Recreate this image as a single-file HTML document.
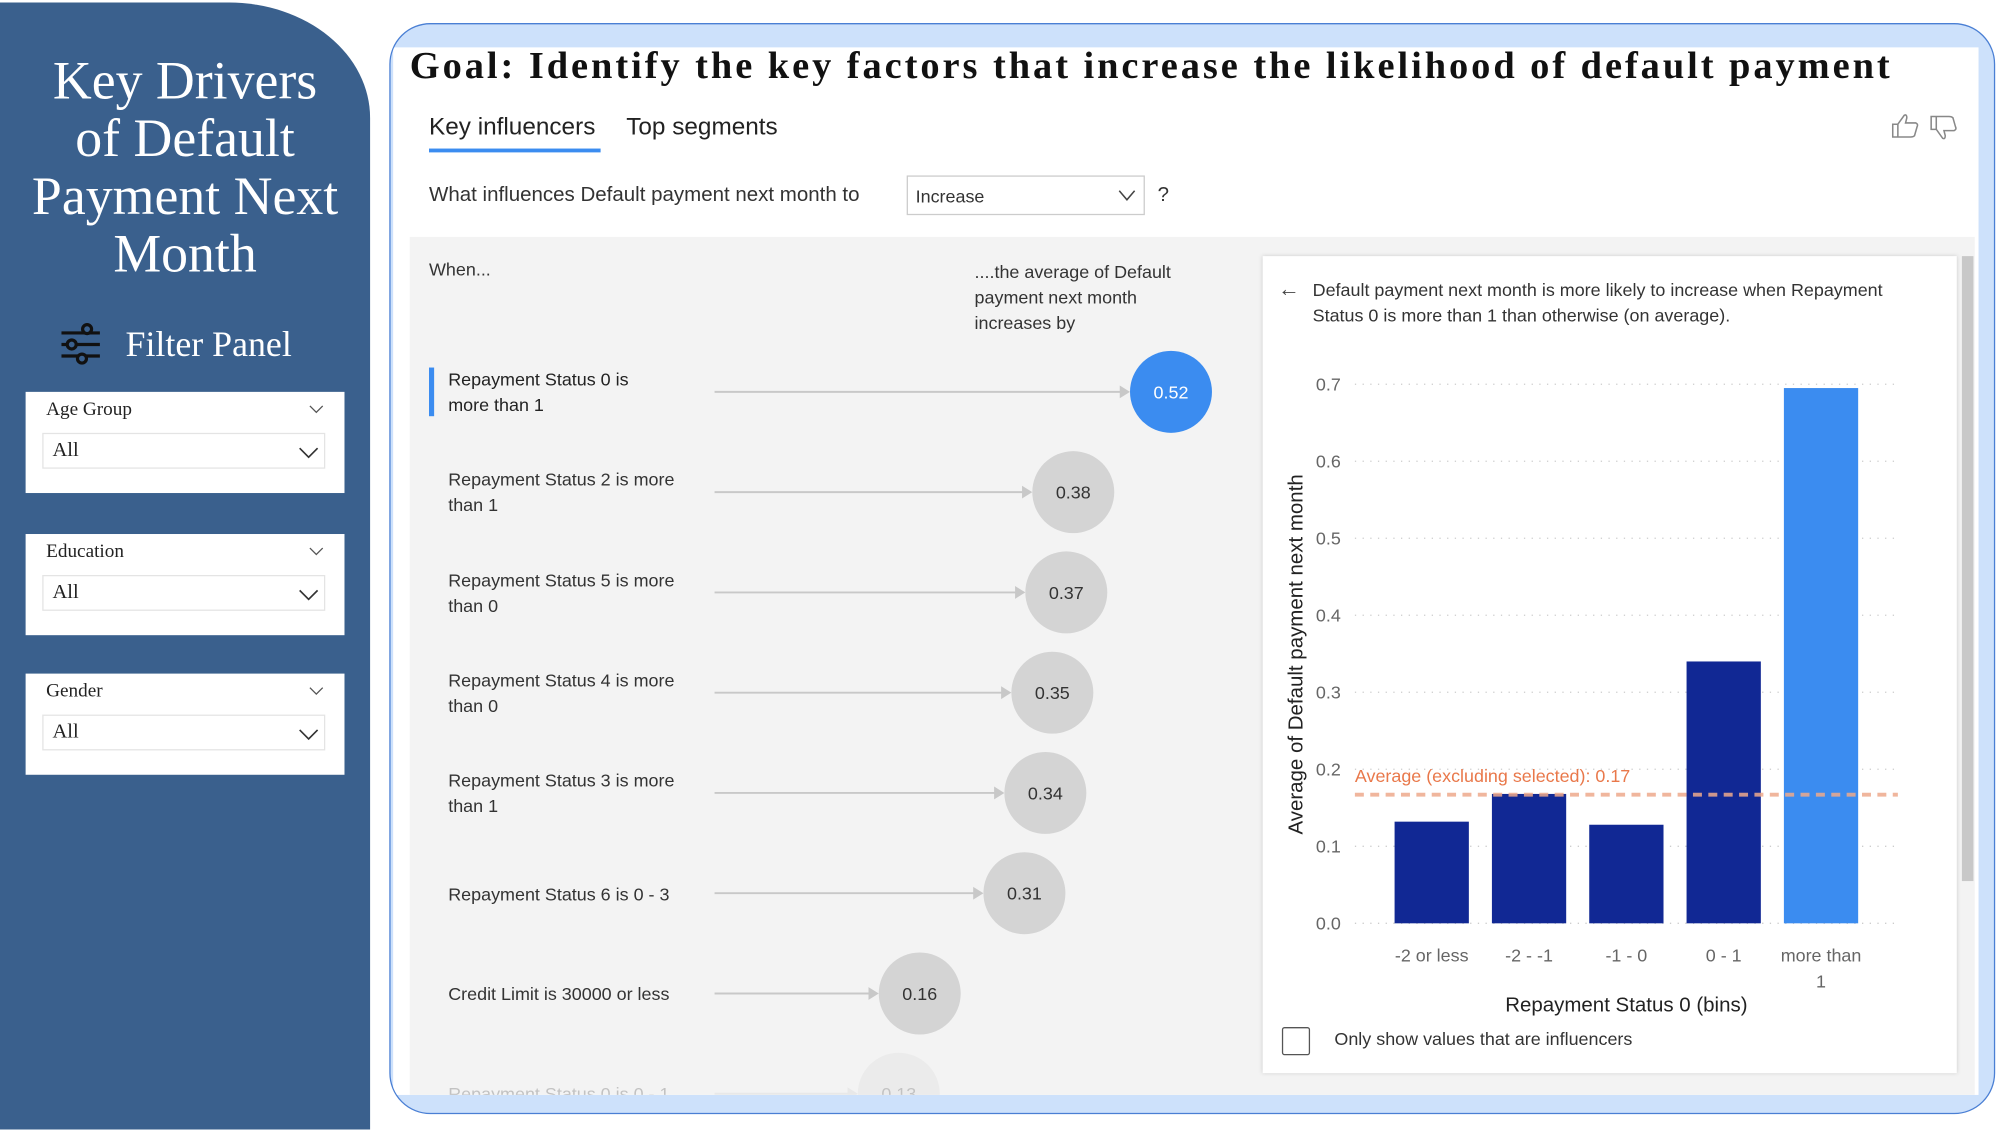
<!DOCTYPE html>
<html><head><meta charset="utf-8"><style>
html,body{margin:0;padding:0;width:2008px;height:1130px;overflow:hidden;background:#fff}
#root{position:absolute;left:0;top:0;width:1568px;height:882px;transform:scale(1.28061);transform-origin:0 0;font-family:"Liberation Sans",sans-serif;overflow:hidden}
.abs{position:absolute}
.serif{font-family:"Liberation Serif",serif}
.slicer{position:absolute;left:20px;width:249px;height:79px;background:#fff}
.slicer .lbl{position:absolute;left:16px;top:6px;font:15px "Liberation Serif",serif;color:#222}
.slicer .box{position:absolute;left:13px;top:32px;width:221px;height:28px;border:1px solid #e4e4e4;box-sizing:border-box}
.slicer .box span{position:absolute;left:7px;top:4px;font:16px "Liberation Serif",serif;color:#222}
.infl{position:absolute;left:350px;font-size:14px;color:#333;line-height:20px;width:200px}
</style></head><body>
<div id="root">
  <div class="abs" style="left:0;top:2px;width:289px;height:880px;background:#3a608d;border-top-right-radius:110px 90px"></div>
  <div class="abs serif" style="left:0;top:42px;width:289px;text-align:center;color:#fff;font-size:42px;line-height:45px">Key Drivers<br>of Default<br>Payment Next<br>Month</div>
  <svg class="abs" style="left:46px;top:252px" width="34" height="34" viewBox="0 0 34 34"><g stroke="#111" stroke-width="2.5" fill="none"><line x1="2" y1="8" x2="32" y2="8"/><line x1="2" y1="17" x2="32" y2="17"/><line x1="2" y1="26" x2="32" y2="26"/><circle cx="22" cy="5" r="3.5" fill="#3a608d"/><circle cx="10" cy="17" r="3.5" fill="#3a608d"/><circle cx="18" cy="28" r="3.5" fill="#3a608d"/></g></svg>
  <div class="abs serif" style="left:98px;top:254px;color:#fff;font-size:28px">Filter Panel</div>
  <div class="slicer" style="top:306px"><div class="lbl">Age Group</div><svg class="abs" style="left:221px;top:10px" width="12" height="7"><path d="M1 1L6 6L11 1" stroke="#555" fill="none"/></svg><div class="box"><span>All</span><svg class="abs" style="left:199px;top:10px" width="16" height="9"><path d="M1 1L8 8L15 1" stroke="#333" fill="none" stroke-width="1.3"/></svg></div></div>
  <div class="slicer" style="top:417px"><div class="lbl">Education</div><svg class="abs" style="left:221px;top:10px" width="12" height="7"><path d="M1 1L6 6L11 1" stroke="#555" fill="none"/></svg><div class="box"><span>All</span><svg class="abs" style="left:199px;top:10px" width="16" height="9"><path d="M1 1L8 8L15 1" stroke="#333" fill="none" stroke-width="1.3"/></svg></div></div>
  <div class="slicer" style="top:526px"><div class="lbl">Gender</div><svg class="abs" style="left:221px;top:10px" width="12" height="7"><path d="M1 1L6 6L11 1" stroke="#555" fill="none"/></svg><div class="box"><span>All</span><svg class="abs" style="left:199px;top:10px" width="16" height="9"><path d="M1 1L8 8L15 1" stroke="#333" fill="none" stroke-width="1.3"/></svg></div></div>

  <div class="abs" style="left:304px;top:18px;width:1254px;height:852px;box-sizing:border-box;border:1.5px solid #4a7fd4;border-radius:32px;background:#cde1fb;overflow:hidden">
    <div class="abs" style="left:2px;top:18px;width:1238px;height:818px;background:#fff"></div>
  </div>
  <div class="abs serif" style="left:320px;top:35px;font-size:30px;letter-spacing:2.3px;font-weight:bold;color:#111;white-space:nowrap">Goal: Identify the key factors that increase the likelihood of default payment</div>
  <div class="abs" style="left:335px;top:89px;font-size:19px;color:#222">Key influencers</div>
  <div class="abs" style="left:335px;top:116px;width:134px;height:3px;background:#3b8cf0"></div>
  <div class="abs" style="left:489px;top:89px;font-size:19px;color:#222">Top segments</div>
  <svg class="abs" style="left:1477px;top:88px" width="22" height="20"><path d="M1 9H5V19H1ZM5 9L10 2Q12 1 12 4L11 8H19Q21 9 20 11L18 18Q17 19 15 19H5" stroke="#888" fill="none" stroke-width="1.2"/></svg>
  <svg class="abs" style="left:1507px;top:90px" width="22" height="20"><path d="M1 1H5V11H1ZM5 11L10 18Q12 19 12 16L11 12H19Q21 11 20 9L18 2Q17 1 15 1H5" stroke="#888" fill="none" stroke-width="1.2"/></svg>
  <div class="abs" style="left:335px;top:144px;font-size:16px;color:#333">What influences Default payment next month to</div>
  <div class="abs" style="left:708px;top:137px;width:186px;height:31px;border:1px solid #ccc;box-sizing:border-box"><span class="abs" style="left:6px;top:7px;font-size:14px;color:#333">Increase</span><svg class="abs" style="left:164px;top:10px" width="14" height="9"><path d="M1 1L7 8L13 1" stroke="#444" fill="none" stroke-width="1.2"/></svg></div>
  <div class="abs" style="left:904px;top:144px;font-size:16px;color:#333">?</div>

  <div class="abs" style="left:320px;top:185px;width:1222px;height:670px;background:#f3f3f3;overflow:hidden">
    <div class="abs" style="left:1212px;top:15px;width:9px;height:488px;background:#c8c8c8"></div>
  </div>
  <div class="abs" style="left:335px;top:202px;font-size:14px;color:#333">When...</div>
  <div class="abs" style="left:761px;top:202px;font-size:14px;color:#333;line-height:20px">....the average of Default<br>payment next month<br>increases by</div>
  <div class="abs" style="left:335px;top:287px;width:4px;height:38px;background:#3b8cf0"></div>
  <div class="abs" style="left:320px;top:185px;width:660px;height:670px;overflow:hidden">
    <div class="abs" style="left:-320px;top:-185px;width:980px;height:855px;overflow:hidden">
      <svg id="infl" class="abs" style="left:0;top:0" width="980" height="855"></svg>
      <div id="infl-labels"></div>
    </div>
  </div>

  <div class="abs" style="left:986px;top:200px;width:542px;height:638px;background:#fff;box-shadow:0 0 3px #ccc"></div>
  <div class="abs" style="left:998px;top:216px;font-size:17px;color:#444">&#8592;</div>
  <div class="abs" style="left:1025px;top:216px;width:480px;font-size:14px;color:#333;line-height:20px">Default payment next month is more likely to increase when Repayment Status 0 is more than 1 than otherwise (on average).</div>
  <svg id="bar" class="abs" style="left:0;top:0" width="1568" height="882"></svg>
  <div class="abs" style="left:1001px;top:802px;width:20px;height:20px;border:1.5px solid #555;border-radius:2px"></div>
  <div class="abs" style="left:1042px;top:803px;font-size:14px;color:#333">Only show values that are influencers</div>
</div>
<script>
const inflLabels=["Repayment Status 0 is more than 1","Repayment Status 2 is more than 1","Repayment Status 5 is more than 0","Repayment Status 4 is more than 0","Repayment Status 3 is more than 1","Repayment Status 6 is 0 - 3","Credit Limit is 30000 or less","Repayment Status 0 is 0 - 1"];
const inflValues=[0.52,0.38,0.37,0.35,0.34,0.31,0.16,0.13];
const barCats=["-2 or less","-2 - -1","-1 - 0","0 - 1","more than 1"];
const barValues=[0.132,0.168,0.128,0.34,0.695];
const yTicks=[0,0.1,0.2,0.3,0.4,0.5,0.6,0.7];
const avgValue=0.167;
const NS="http://www.w3.org/2000/svg";
function mk(p,t,a){const e=document.createElementNS(NS,t);for(const k in a)e.setAttribute(k,a[k]);p.appendChild(e);return e;}
const isv=document.getElementById('infl');
const ix=v=>631+v*545;
const iy=i=>306+i*78.3;
inflValues.forEach((v,i)=>{
  const g=mk(isv,'g',{opacity:i==7?0.25:1});
  
  
  const cx=ix(v),cy=iy(i),r=32;
  mk(g,'line',{x1:558,y1:cy,x2:cx-r-6,y2:cy,stroke:'#c8c8c8','stroke-width':1.5});
  mk(g,'path',{d:`M${cx-r-8} ${cy-5}L${cx-r} ${cy}L${cx-r-8} ${cy+5}Z`,fill:'#c8c8c8'});
  const c=mk(g,'circle',{cx:cx,cy:cy,r:r,fill:i==0?'#3b8cf0':'#d4d4d4'});
  
  
  const t=mk(g,'text',{x:cx,y:cy+5,'text-anchor':'middle','font-size':14,fill:i==0?'#fff':'#333','font-family':'Liberation Sans'});
  t.textContent=v.toFixed(2);
  const d=document.createElement('div');
  d.className='infl';
  
  
  d.style.top=(cy-20)+'px';
  d.style.width=(i==0?160:200)+'px';
  if(i==5||i==6)d.style.top=(cy-10)+'px';
  if(i==7){d.style.opacity=0.25;d.style.top=(cy-10)+'px';}
  if(i==0)d.style.color='#222';
  d.textContent=inflLabels[i];
  document.getElementById('infl-labels').appendChild(d);
});
const bsv=document.getElementById('bar');
const y0=721,ppu=601.4;
const y=v=>y0-v*ppu;
const x=i=>1118+i*76;
yTicks.forEach(t=>{
  mk(bsv,'line',{x1:1058,y1:y(t),x2:1482,y2:y(t),stroke:'#ccc','stroke-dasharray':'1 5'});
  const tx=mk(bsv,'text',{x:1047,y:y(t)+5,'text-anchor':'end','font-size':14,fill:'#666','font-family':'Liberation Sans'});
  tx.textContent=t.toFixed(1);
});
barValues.forEach((v,i)=>{
  const r=mk(bsv,'rect',{x:x(i)-29,y:y(v),width:58,height:v*ppu,fill:i==4?'#3b8cf0':'#112894'});
  
  
  const lbl=barCats[i]=='more than 1'?['more than','1']:[barCats[i]];
  lbl.forEach((s,j)=>{const t=mk(bsv,'text',{x:x(i),y:751+j*20,'text-anchor':'middle','font-size':14,fill:'#666','font-family':'Liberation Sans'});t.textContent=s;});
});
mk(bsv,'line',{x1:1058,y1:y(avgValue),x2:1482,y2:y(avgValue),stroke:'#eeaa8c','stroke-width':3,'stroke-dasharray':'7 5',opacity:0.85});
const at=mk(bsv,'text',{x:1058,y:y(avgValue)-10,'font-size':14,fill:'#e9784a','font-family':'Liberation Sans'});at.textContent='Average (excluding selected): '+avgValue.toFixed(2);
const xt=mk(bsv,'text',{x:1270,y:790,'text-anchor':'middle','font-size':16,fill:'#222','font-family':'Liberation Sans'});xt.textContent='Repayment Status 0 (bins)';
const yt=mk(bsv,'text',{x:0,y:0,'text-anchor':'middle','font-size':16,fill:'#222','font-family':'Liberation Sans',transform:'translate(1017,511) rotate(-90)'});yt.textContent='Average of Default payment next month';
</script>
</body></html>
